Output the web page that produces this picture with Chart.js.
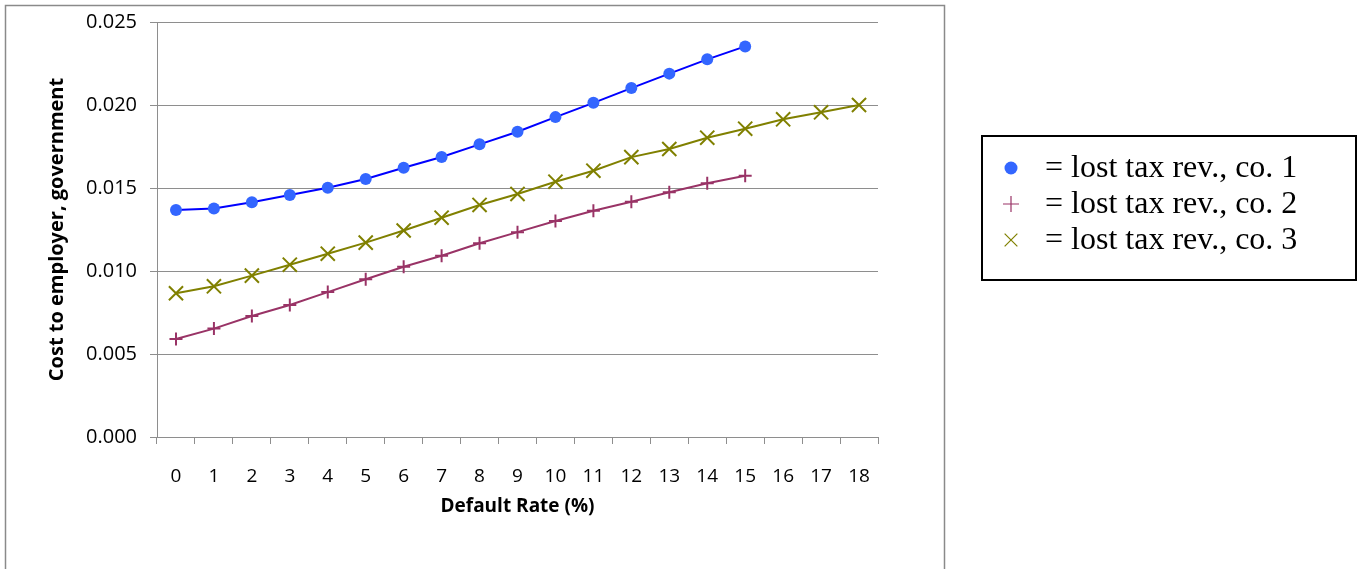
<!DOCTYPE html>
<html>
<head>
<meta charset="utf-8">
<title>Cost to employer, government</title>
<script src="https://cdn.jsdelivr.net/npm/chart.js@4/dist/chart.umd.min.js"></script>
<style>
    body { margin: 0; background: #fff; }
    #wrap { width: 1358px; height: 569px; }
</style>
</head>
<body>
<div id="wrap"><canvas id="costChart" width="1358" height="569"></canvas></div>
<script>
// Werte
const defaultRates = ["0", "1", "2", "3", "4", "5", "6", "7", "8", "9", "10", "11", "12", "13", "14", "15", "16", "17", "18"];
const co1 = [0.01367, 0.01377, 0.01414, 0.01458, 0.01502, 0.01554, 0.01622, 0.01687, 0.01763, 0.01839, 0.01927, 0.02013, 0.02102, 0.02189, 0.02275, 0.02353];
const co2 = [0.00590, 0.00653, 0.00729, 0.00795, 0.00873, 0.00950, 0.01026, 0.01092, 0.01167, 0.01234, 0.01301, 0.01363, 0.01417, 0.01474, 0.01528, 0.01574];
const co3 = [0.00866, 0.00908, 0.00972, 0.01038, 0.01104, 0.01171, 0.01244, 0.01321, 0.01398, 0.01464, 0.01538, 0.01604, 0.01686, 0.01735, 0.01803, 0.01857, 0.01914, 0.01956, 0.02000];
const seriesNames = ["= lost tax rev., co. 1", "= lost tax rev., co. 2", "= lost tax rev., co. 3"];
const yMin = 0, yMax = 0.025, yStep = 0.005;

document.addEventListener("DOMContentLoaded", function () {
    const gridGrey = "#8e8e8e";
    const sans = "'Open Sans', 'Noto Sans', sans-serif";

    // Rahmen um das Diagramm + Legende im Kasten rechts
    const frameAndLegend = {
        id: "frameAndLegend",
        beforeDraw(chart) {
            const ctx = chart.ctx;
            ctx.save();
            ctx.fillStyle = "#fff";
            ctx.fillRect(0, 0, chart.width, chart.height);
            ctx.strokeStyle = "#8a8a8a";
            ctx.lineWidth = 1.5;
            ctx.strokeRect(5.5, 5.5, 939, 620);
            ctx.restore();
        },
        afterDraw(chart) {
            const ctx = chart.ctx;
            ctx.save();
            ctx.strokeStyle = "#000";
            ctx.lineWidth = 2;
            ctx.strokeRect(982, 136, 374, 144);
            ctx.textBaseline = "middle";
            chart.data.datasets.forEach(function (ds, i) {
                const y = 168 + i * 36;
                ctx.fillStyle = ds.pointBackgroundColor;
                ctx.strokeStyle = ds.pointBorderColor;
                ctx.lineWidth = 1.2;
                Chart.helpers.drawPoint(ctx, {
                    pointStyle: ds.pointStyle,
                    radius: i === 0 ? 6.5 : (i === 1 ? 8 : 9),
                    borderWidth: i === 0 ? 0 : 1.2,
                    rotation: 0
                }, 1011, y);
                ctx.font = "32px 'Liberation Serif', 'Times New Roman', serif";
                ctx.fillStyle = "#000";
                ctx.fillText(seriesNames[i], 1045, y + 1);
            });
            ctx.restore();
        }
    };

    function series(data, line, marker, style, radius, width) {
        return {
            data: data,
            borderColor: line,
            borderWidth: 2,
            pointStyle: style,
            pointRadius: radius,
            pointHoverRadius: radius,
            pointBackgroundColor: marker,
            pointBorderColor: marker,
            pointBorderWidth: width,
            tension: 0,
            fill: false
        };
    }

    const ctx = document.getElementById("costChart").getContext("2d");
    new Chart(ctx, {
        type: "line",
        data: {
            labels: defaultRates,
            datasets: [
                series(co1, "#0000ff", "#3366ff", "circle", 6, 0),
                series(co2, "#993366", "#993366", "cross", 6.5, 2),
                series(co3, "#808000", "#808000", "crossRot", 10, 2)
            ]
        },
        options: {
            responsive: false,
            animation: false,
            layout: { padding: { top: 22, right: 480, left: 0, bottom: 0 } },
            plugins: {
                legend: { display: false },
                tooltip: { enabled: false }
            },
            scales: {
                x: {
                    offset: true,
                    afterFit: function (scale) { scale.height = 132; },
                    grid: {
                        offset: true,
                        drawOnChartArea: false,
                        drawTicks: true,
                        tickLength: 7,
                        color: gridGrey
                    },
                    border: { color: gridGrey, width: 1 },
                    ticks: {
                        padding: 21,
                        autoSkip: false,
                        maxRotation: 0,
                        color: "#000",
                        font: { family: sans, size: 19 }
                    },
                    title: {
                        display: true,
                        text: "Default Rate (%)",
                        color: "#000",
                        padding: { top: 0, bottom: 51 },
                        font: { family: sans, size: 19, weight: "bold" }
                    }
                },
                y: {
                    min: yMin,
                    max: yMax,
                    afterFit: function (scale) {
                        scale.width = 157;
                        // Plotbereich genau von y=22 bis y=437
                        scale.paddingTop = 0;
                        scale.paddingBottom = 0;
                    },
                    grid: {
                        color: gridGrey,
                        drawTicks: true,
                        tickLength: 7
                    },
                    border: { color: gridGrey, width: 1 },
                    ticks: {
                        stepSize: yStep,
                        padding: 13,
                        color: "#000",
                        font: { family: sans, size: 20 },
                        callback: function (v) { return Number(v).toFixed(3); }
                    },
                    title: {
                        display: true,
                        text: "Cost to employer, government",
                        color: "#000",
                        padding: { top: 45, bottom: 0 },
                        font: { family: sans, size: 20, weight: "bold" }
                    }
                }
            }
        },
        plugins: [frameAndLegend]
    });
});
</script>
</body>
</html>
